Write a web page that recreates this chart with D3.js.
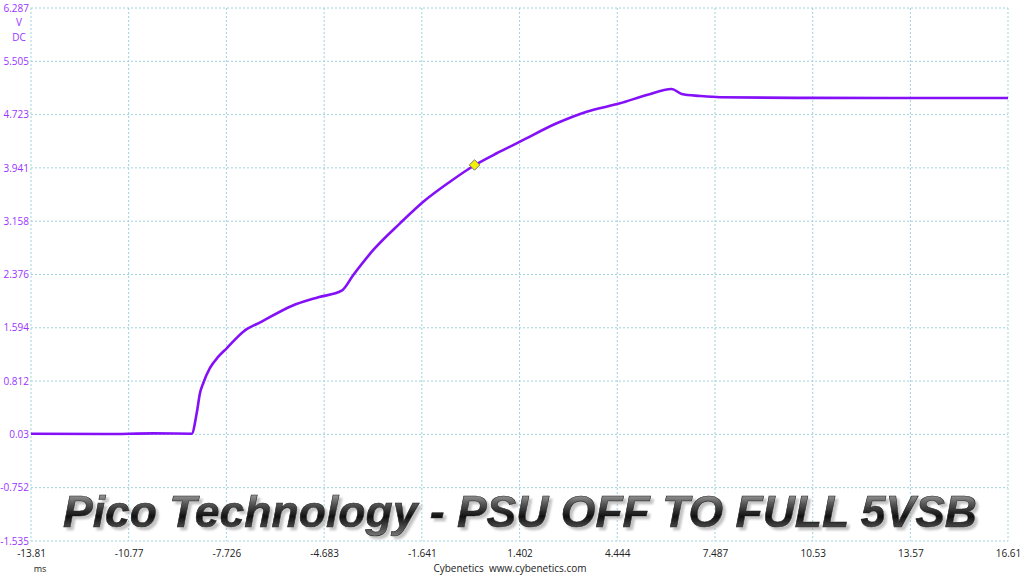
<!DOCTYPE html>
<html>
<head>
<meta charset="utf-8">
<script src="https://cdn.jsdelivr.net/npm/d3@7"></script>
<style>
  body { margin: 0; background: #fff; }
  svg { display: block; }
</style>
</head>
<body>
<svg width="1024" height="576"></svg>
<script>
var margin = {left:31,right:16,top:8,bottom:35};
var width = 1024;
var height = 576;

// tick labels as printed by the scope
var xTicks = [-13.81, -10.77, -7.726, -4.683, -1.641, 1.402, 4.444, 7.487, 10.53, 13.57, 16.61];
var yTicks = [6.287, 5.505, 4.723, 3.941, 3.158, 2.376, 1.594, 0.812, 0.03, -0.752, -1.535];

// 5VSB trace, time in ms, volts
var timeMs = [-13.81, -11.5, -10.0, -8.806, -8.651, -8.548, -8.445, -8.237, -7.978, -7.717, -7.200, -6.627, -5.693, -4.865, -4.136,
  -3.775, -3.152, -2.321, -1.595, -0.764, 0.014, 0.690, 1.416, 2.558, 3.492, 4.529, 5.360, 6.139, 6.450, 7.020, 7.643, 10.0, 13.0, 16.61];
var volts = [0.04, 0.035, 0.045, 0.04, 0.339, 0.637, 0.784, 1.004, 1.170, 1.293, 1.537, 1.684, 1.914, 2.042, 2.138,
  2.369, 2.736, 3.127, 3.444, 3.738, 3.983, 4.155, 4.325, 4.595, 4.765, 4.888, 5.010, 5.098, 5.025, 4.996, 4.977, 4.968, 4.966, 4.966];

// trigger marker
var markerT = [0.0];
var markerV = [3.983];

var svg = d3.select("svg");

var x = d3.scaleLinear().domain([-13.81, 16.61]).range([margin.left, width - margin.right]);
var y = d3.scaleLinear().domain([-1.535, 6.287]).range([height - margin.bottom, margin.top]);

var defs = svg.append("defs");
var grad = defs.append("linearGradient").attr("id","tg").attr("x1",0).attr("y1",0).attr("x2",0).attr("y2",1);
grad.append("stop").attr("offset","0%").attr("stop-color","#d0d0d0");
grad.append("stop").attr("offset","35%").attr("stop-color","#555");
grad.append("stop").attr("offset","60%").attr("stop-color","#111");
grad.append("stop").attr("offset","100%").attr("stop-color","#777");
var shadow = defs.append("filter").attr("id","sh").attr("x","-5%").attr("y","-20%").attr("width","110%").attr("height","140%");
shadow.append("feDropShadow").attr("dx",3).attr("dy",3).attr("stdDeviation",1)
  .attr("flood-color","#999").attr("flood-opacity",0.6);

// grid
var gridColor = "#9fd3dc";
svg.append("g").selectAll("line").data(xTicks).enter().append("line")
  .attr("x1", function(d){ return x(d); }).attr("x2", function(d){ return x(d); })
  .attr("y1", margin.top).attr("y2", height - margin.bottom)
  .attr("stroke", gridColor).attr("stroke-width", 1).attr("stroke-dasharray", "2,2");
svg.append("g").selectAll("line").data(yTicks).enter().append("line")
  .attr("y1", function(d){ return y(d); }).attr("y2", function(d){ return y(d); })
  .attr("x1", margin.left).attr("x2", width - margin.right)
  .attr("stroke", gridColor).attr("stroke-width", 1).attr("stroke-dasharray", "2,2");

// y axis labels
var yAxis = d3.axisLeft(y).tickValues(yTicks).tickSize(0).tickPadding(2).tickFormat(function(d){ return String(d); });
var gy = svg.append("g").attr("transform", "translate(" + margin.left + ",0)").call(yAxis);
gy.select(".domain").remove();
gy.selectAll("text").attr("fill", "#9933ff").style("font-family", "'Open Sans', sans-serif").style("font-size", "10px");

svg.append("text").attr("x", 19).attr("y", 26).attr("text-anchor","middle").attr("fill","#9933ff")
  .style("font-family","'Open Sans', sans-serif").style("font-size","10px").text("V");
svg.append("text").attr("x", 19).attr("y", 41).attr("text-anchor","middle").attr("fill","#9933ff")
  .style("font-family","'Open Sans', sans-serif").style("font-size","10px").text("DC");

// x axis labels
var xAxis = d3.axisBottom(x).tickValues(xTicks).tickSize(0).tickPadding(9).tickFormat(function(d){ return String(d); });
var gx = svg.append("g").attr("transform", "translate(0," + (height - margin.bottom) + ")").call(xAxis);
gx.select(".domain").remove();
gx.selectAll("text").attr("fill", "#222").style("font-family", "'Open Sans', sans-serif").style("font-size", "10px");

svg.append("text").attr("x", 40).attr("y", 572).attr("text-anchor","middle").attr("fill","#222")
  .style("font-family","'Open Sans', sans-serif").style("font-size","9px").text("ms");
svg.append("text").attr("x", 510).attr("y", 572).attr("text-anchor","middle").attr("fill","#222")
  .style("font-family","'Open Sans', sans-serif").style("font-size","10px").attr("xml:space","preserve")
  .text("Cybenetics  www.cybenetics.com");

// trace
var pts = timeMs.map(function(t, i){ return [t, volts[i]]; });
var line = d3.line().x(function(d){ return x(d[0]); }).y(function(d){ return y(d[1]); }).curve(d3.curveMonotoneX);
svg.append("path").datum(pts).attr("d", line).attr("fill","none")
  .attr("stroke","#8410f8").attr("stroke-width", 2.6).attr("stroke-linejoin","round");

// marker
svg.append("g").selectAll("path").data(markerT).enter().append("path")
  .attr("d", d3.symbol().type(d3.symbolDiamond2).size(70))
  .attr("transform", function(d, i){ return "translate(" + x(d) + "," + y(markerV[i]) + ")"; })
  .attr("fill","#f5f000").attr("stroke","#777").attr("stroke-width",1);

// title
var title = "Pico Technology - PSU OFF TO FULL 5VSB";
svg.append("text").attr("x", 520).attr("y", 527).attr("text-anchor","middle")
  .attr("fill","url(#tg)").attr("stroke","#222").attr("stroke-width",0.6)
  .attr("filter","url(#sh)")
  .style("font-family","'Liberation Sans', Arial, sans-serif")
  .style("font-weight","bold").style("font-style","italic").style("font-size","44.5px").text(title);
</script>
</body>
</html>
